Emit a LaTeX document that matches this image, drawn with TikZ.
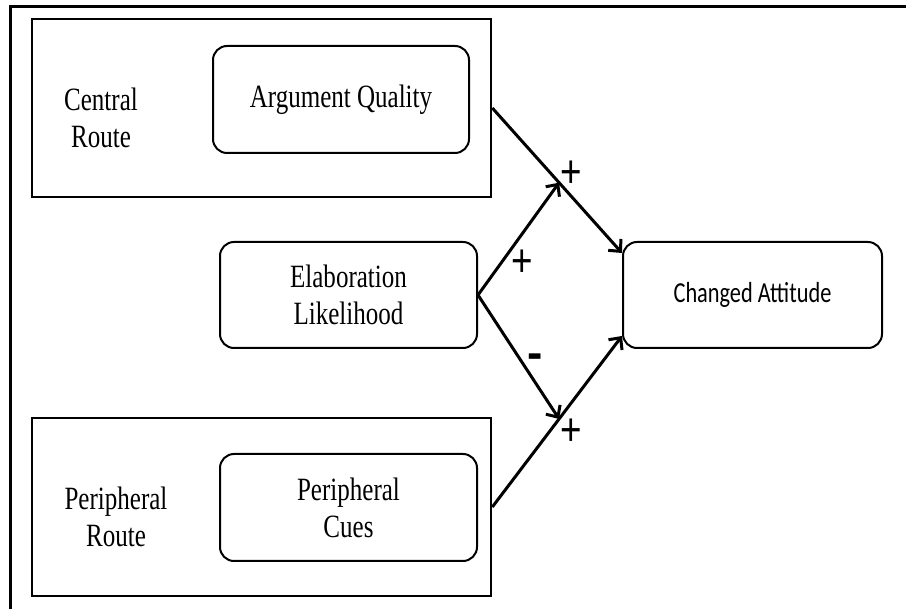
\documentclass[tikz,border=0pt]{standalone}
\usepackage{fontspec}
\usetikzlibrary{arrows.meta,calc}
% condensed faces used throughout the figure
\newfontfamily\serifcond[FakeStretch=0.77]{Liberation Serif}
\newfontfamily\calcond[FakeStretch=0.77]{Carlito}
\newfontfamily\signfont[FakeStretch=0.8]{Liberation Sans}
\newfontfamily\signbold{Liberation Sans Bold}

\tikzset{
  routebox/.style={draw, line width=2.6pt, minimum width=459pt, minimum height=178pt, inner sep=0pt},
  itembox/.style={draw, line width=2pt, rounded corners=14pt, inner sep=0pt, align=center,
    font=\serifcond\fontsize{32.5}{37}\selectfont},
  routelabel/.style={align=center, inner sep=0pt, font=\serifcond\fontsize{32.5}{37}\selectfont},
  sign/.style={anchor=base, inner sep=0pt, font=\signfont\fontsize{46}{50}\selectfont},
  flow/.style={line width=3pt, -{Straight Barb[length=9pt,width=17pt,line width=3pt]}}
}

\begin{document}
\begin{tikzpicture}[x=1pt,y=-1pt]
  \useasboundingbox (0,0) rectangle (906,609);
  \fill[white] (0,0) rectangle (906,609);
  % page frame (left and top rules)
  \draw[line width=3pt] (10,609) -- (10,7) -- (906,7);

  % route groups
  \node[routebox] (central) at (261.5,108) {};
  \node[routebox] (peri) at (261.5,507) {};
  \node[routelabel] (centrallbl) at (101,118) {Central\\Route};
  \node[routelabel] (perilbl) at (116,517) {Peripheral\\Route};

  % construct boxes
  \node[itembox, minimum width=256pt, minimum height=107pt] (aq) at (341,99.5)
    {\raisebox{-5pt}{Argument Quality}};
  \node[itembox, minimum width=257pt, minimum height=106pt] (elab) at (348.5,295)
    {Elaboration\\Likelihood};
  \node[itembox, minimum width=257pt, minimum height=107pt] (cues) at (348.5,507.5)
    {Peripheral\\Cues};
  \node[itembox, minimum width=259pt, minimum height=106pt,
        font=\calcond\fontsize{29}{34}\selectfont] (att) at (752.5,295)
    {\raisebox{-3pt}{Changed Attitude}};

  % arrow end points on the outcome box and the two junctions
  \coordinate (attA) at ([yshift=-12pt]att.north west);
  \coordinate (attB) at ([yshift=13pt]att.south west);
  \coordinate (jup) at ($(central.east)!0.515!(attA)$);
  \coordinate (jlow) at ($(peri.east)!0.515!(attB)$);

  % paths
  \draw[flow] (central.east) -- (attA);
  \draw[flow] (peri.east) -- (attB);
  \draw[flow] (elab.east) -- (jup);
  \draw[flow] (elab.east) -- (jlow);

  % signs
  \node[sign] (s1) at (571,188) {+};
  \node[sign] (s2) at (522,277) {+};
  \node[sign, font=\signbold\fontsize{46}{50}\selectfont] (s3) at (535,369) {-};
  \node[sign] (s4) at (571,446) {+};
\end{tikzpicture}
\end{document}
